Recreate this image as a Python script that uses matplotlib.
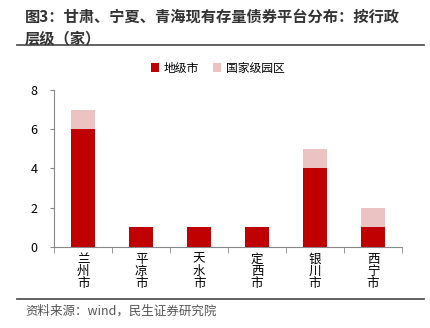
import numpy as np
import matplotlib.pyplot as plt
from matplotlib.lines import Line2D

plt.rcParams['font.family'] = ['Noto Sans CJK SC', 'DejaVu Sans']

cities = ["兰州市", "平凉市", "天水市", "定西市", "银川市", "西宁市"]
prefecture = [6, 1, 1, 1, 4, 1]
national_park = [1, 0, 0, 0, 1, 1]

dark_red = "#C00000"
pink = "#EBC3C3"

fig = plt.figure(figsize=(4.30, 3.28), dpi=100)
ax = fig.add_axes([0.126, 0.247, 0.809, 0.479])

x = np.arange(len(cities))
ax.bar(x, prefecture, width=0.42, color=dark_red, label="地级市")
ax.bar(x, national_park, width=0.42, bottom=prefecture, color=pink, label="国家级园区")

ax.set_xlim(-0.5, len(cities) - 0.5)
ax.set_ylim(0, 8)
ax.set_yticks([0, 2, 4, 6, 8])
ax.set_xticks(x)
ax.set_xticklabels(["\n".join(c) for c in cities], linespacing=0.9, fontsize=9)
ax.set_xticks(np.arange(-0.5, len(cities)), minor=True)
ax.tick_params(axis="x", which="major", length=0, pad=4)
ax.tick_params(axis="x", which="minor", length=4, color="#888888")
ax.tick_params(axis="y", length=3, color="#888888", labelsize=9, pad=9)

for s in ["top", "right"]:
    ax.spines[s].set_visible(False)
for s in ["left", "bottom"]:
    ax.spines[s].set_color("#888888")

ax.legend(loc="lower center", bbox_to_anchor=(0.47, 1.03), ncol=2, frameon=False,
          fontsize=8.5, handlelength=0.7, handleheight=0.7, columnspacing=1.2,
          handletextpad=0.4)

fig.text(0.058, 0.948, "图3：甘肃、宁夏、青海现有存量债券平台分布：按行政",
         fontsize=11, fontweight="bold", color="#333333", va="center")
fig.text(0.058, 0.884, "层级（家）",
         fontsize=11, fontweight="bold", color="#333333", va="center")
fig.add_artist(Line2D([0.04, 0.985], [0.862, 0.862], color="#555555", lw=1.3,
                      transform=fig.transFigure))
fig.add_artist(Line2D([0.04, 0.985], [0.088, 0.088], color="#555555", lw=1.3,
                      transform=fig.transFigure))
fig.text(0.058, 0.052, "资料来源：wind，民生证券研究院",
         fontsize=9, color="#555555", va="center")

fig.savefig("out.png", dpi=100)
